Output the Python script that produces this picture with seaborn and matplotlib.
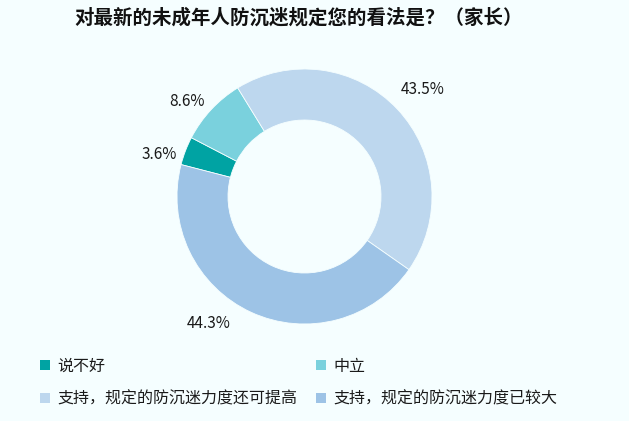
import numpy as np
import matplotlib
matplotlib.use("Agg")
import matplotlib.pyplot as plt
import seaborn as sns
from matplotlib.patches import Patch

categories = ["说不好", "中立", "支持，规定的防沉迷力度还可提高", "支持，规定的防沉迷力度已较大"]
values = [3.6, 8.6, 43.5, 44.3]
pct_labels = ["3.6%", "8.6%", "43.5%", "44.3%"]
title = "对最新的未成年人防沉迷规定您的看法是？（家长）"

colors = ["#00a3a3", "#7ad1dd", "#bdd7ee", "#9dc3e6"]
bg = "#f5feff"

sns.set_theme(style="white")
plt.rcParams['font.family'] = ['Noto Sans CJK SC', 'DejaVu Sans']
palette = sns.color_palette(colors)

W, H = 629, 421
fig = plt.figure(figsize=(W / 100, H / 100), dpi=100, facecolor=bg)
cx, cy, R = 304.5, H - 196.5, 127.5
half = 160
ax = fig.add_axes([(cx - half) / W, (cy - half) / H, 2 * half / W, 2 * half / H])
ax.set_facecolor(bg)
wedges, _ = ax.pie(values, colors=palette, startangle=165.5, counterclock=False, radius=1,
                   wedgeprops=dict(width=0.4, edgecolor=bg, linewidth=0.6))
lim = half / R
ax.set_xlim(-lim, lim)
ax.set_ylim(-lim, lim)
ax.set_aspect('equal')
ax.axis('off')

label_r = 1.2
nudges_px = [(-2, -12.5), (-5, -9.5), (6.5, 2.5), (-32, 11.5)]
for w, lab, (dx, dy) in zip(wedges, pct_labels, nudges_px):
    mid = np.deg2rad((w.theta1 + w.theta2) / 2)
    x = label_r * np.cos(mid) + dx / R
    y = label_r * np.sin(mid) + dy / R
    ax.text(x, y, lab, ha='center', va='center', fontsize=11, color='#1a1a1a')

fig.text(299 / W, 1 - 18 / H, title, ha='center', va='center', fontsize=14,
         fontweight='bold', color='#111111')

order = [0, 2, 1, 3]
handles = [Patch(facecolor=palette[i], edgecolor='none') for i in order]
labels = [categories[i] for i in order]
fig.legend(handles=handles, labels=labels, ncol=2, loc='upper left',
           bbox_to_anchor=(40 / W, 1 - 358 / H), frameon=False, fontsize=11.5,
           handlelength=0.6, handleheight=0.6, handletextpad=0.5, columnspacing=1.15,
           labelspacing=0.97, borderpad=0, borderaxespad=0, labelcolor='#1a1a1a')

fig.savefig("out.png", dpi=100, facecolor=bg)
